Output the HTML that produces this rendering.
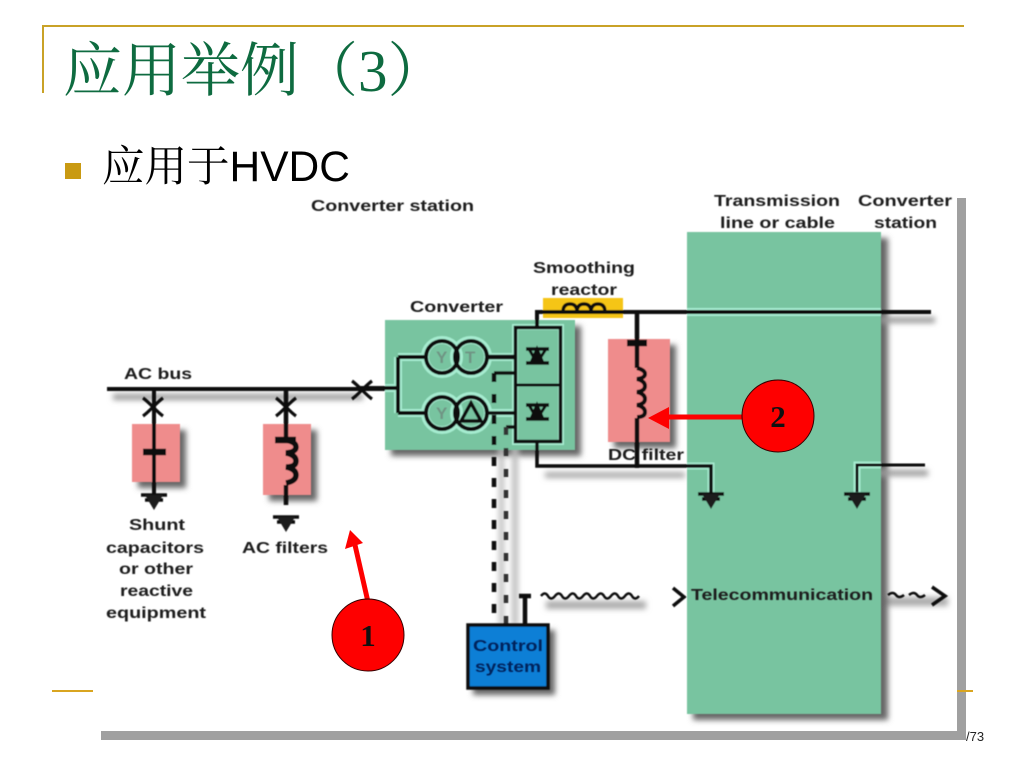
<!DOCTYPE html>
<html><head><meta charset="utf-8"><style>
html,body{margin:0;padding:0;background:#fff;width:1024px;height:768px;overflow:hidden}
svg{display:block}
.l{font-family:"Liberation Sans",sans-serif;font-size:16px;fill:#1c1c1c;font-weight:bold;stroke:none}
</style></head><body>
<svg width="1024" height="768" viewBox="0 0 1024 768" xmlns="http://www.w3.org/2000/svg">
<defs>
<filter id="b" x="-20%" y="-20%" width="140%" height="140%"><feGaussianBlur stdDeviation="3"/></filter>
<filter id="s" x="-5%" y="-5%" width="110%" height="110%"><feGaussianBlur stdDeviation=".55"/></filter>
<filter id="w" filterUnits="userSpaceOnUse" x="90" y="190" width="880" height="550"><feGaussianBlur stdDeviation=".5"/></filter>
<g id="gnd"><path d="M-13 1H13M-9 6H9" stroke="#111" stroke-width="3.500" fill="none"/><path d="M-9 1H9L0 16Z" fill="#1a1a1a"/></g>
<g id="x"><path d="M-10 -9C-4 -5 4 5 10 9M-10 9C-4 5 4 -5 10 -9" stroke="#111" stroke-width="3.200" fill="none"/></g>
</defs>

<!-- slide frame -->
<path d="M42 26H964" stroke="#c9a227" stroke-width="2" fill="none"/>
<path d="M43 26V93" stroke="#c9a227" stroke-width="2" fill="none"/>
<text x="63" y="91" font-family="'Liberation Serif','Noto Serif CJK SC',serif" font-size="59" fill="#0e6b40">应用举例（3）</text>
<rect x="65" y="163" width="16" height="16" fill="#c99a12"/>
<text x="102" y="181" font-family="'Liberation Sans','Noto Serif CJK SC',sans-serif" font-size="42.5" fill="#000">应用于HVDC</text>
<text x="966" y="741" font-family="'Liberation Sans',sans-serif" font-size="13" fill="#222">/73</text>

<!-- picture -->
<rect x="957" y="198" width="9" height="542" fill="#a0a0a0"/>
<rect x="101" y="731" width="865" height="9" fill="#a0a0a0"/>
<path d="M52 691H93M957 691H973" stroke="#d9a520" stroke-width="2" fill="none"/>

<!-- shadows -->
<g filter="url(#b)" fill="#666">
<rect x="693" y="238" width="195" height="482"/>
<rect x="391" y="326" width="190" height="130"/>
<rect x="138" y="430" width="48" height="58"/>
<rect x="269" y="430" width="48" height="71"/>
<rect x="614" y="345" width="62" height="103"/>
<rect x="473" y="630" width="82" height="65"/>
<rect x="113" y="394" width="250" height="6" fill="#999"/>
<rect x="545" y="472" width="140" height="6" fill="#aaa"/>
<rect x="880" y="317" width="55" height="6" fill="#999"/>
<rect x="870" y="470" width="58" height="6" fill="#999"/>
<rect x="546" y="601" width="100" height="8" fill="#aaa"/>
<rect x="888" y="597" width="60" height="9" fill="#aaa"/>
<rect x="499" y="440" width="5" height="185" fill="#bbb"/>
<rect x="512" y="440" width="6" height="185" fill="#bbb"/>
</g>

<g filter="url(#w)">
<!-- green blocks -->
<rect x="687" y="232" width="194" height="482" fill="#78c4a0"/>
<rect x="385" y="320" width="190" height="130" fill="#78c4a0"/>
<!-- pink -->
<rect x="132" y="424" width="48" height="58" fill="#ef8c8c"/>
<rect x="263" y="424" width="48" height="71" fill="#ef8c8c"/>
<rect x="608" y="339" width="62" height="103" fill="#ef8c8c"/>
<!-- yellow -->
<rect x="543" y="298" width="80" height="20" fill="#f5c518"/>

<!-- mint halos -->
<g fill="none" stroke="#a6ecd0" stroke-width="8">
<path d="M687 312H881"/>
<path d="M385 388H398M398 357H425M398 413H425M398 357V413M488 357H515M488 413H515"/>
<circle cx="442" cy="357" r="17" stroke-width="8"/><circle cx="471" cy="357" r="17" stroke-width="8"/>
<circle cx="442" cy="413" r="17" stroke-width="8"/><circle cx="471" cy="413" r="17" stroke-width="8"/>
<rect x="515.500" y="327.500" width="45" height="114" stroke-width="7"/>
<path d="M687 466H711V492M881 465H857V492" stroke-width="7"/>
</g>
<path d="M518 330H558V440H518Z" fill="#78c4a0"/>

<!-- wiring -->
<g fill="none" stroke="#0c0c0c" stroke-width="3.500">
<path d="M107 389H385" stroke-width="4"/>
<path d="M360 388H398M398 357V413M398 357H425M398 413H425" stroke-width="4"/>
<path d="M488 357H515" stroke-width="4.500"/><path d="M488 413H515" stroke-width="3.500"/>
<circle cx="442" cy="357" r="16" stroke-width="4"/><circle cx="471" cy="357" r="16" stroke-width="4"/>
<circle cx="442" cy="413" r="16" stroke-width="4"/><circle cx="471" cy="413" r="16" stroke-width="4"/>
<rect x="515.500" y="327.500" width="45" height="114" stroke-width="3.500"/>
<path d="M516 385H560" stroke-width="3"/>
<path d="M537 327V312H931" stroke-width="4"/>
<path d="M537 442V466H711V495" stroke-width="3.500"/>
<path d="M637 312V368M637 418V468" stroke-width="4.500"/>
<path d="M637 368q8 2 8 6t-8 5q8 2 8 7t-8 6q8 2 8 7t-8 6q8 2 8 7t-8 5" stroke-width="4"/>
<path d="M563 312q0 -8 7 -8t7 8q0 -8 7 -8t7 8q0 -8 7 -8t7 8" stroke-width="3.500"/>
<path d="M154 389V495" stroke-width="4"/>
<path d="M286 389V440M286 485V505" stroke-width="4.500"/>
<path d="M286 440q10 2 10 7t-10 6q10 2 10 8t-10 6q10 2 10 8t-10 8" stroke-width="5.500"/>
<path d="M925 465H857V492" stroke-width="3"/>
<path d="M525 624V597M519 596H531" stroke-width="4.500"/>
<path d="M494 373H515M506 427H515" stroke-width="3.500"/>
<path d="M494 373V624" stroke-width="4.500" stroke-dasharray="9 12"/>
<path d="M506 427V624" stroke-width="4.500" stroke-dasharray="8 13" stroke="#333"/>
<path d="M541 596q4 -5 7 0t7 0q4 -5 7 0t7 0q4 -5 7 0t7 0q4 -5 7 0t7 0q4 -5 7 0t7 0q4 -5 7 0t7 0q4 -5 7 0t7 0" stroke-width="2.500"/>
<path d="M888 595q5 -4 8 0t8 0M909 595q5 -4 8 0t8 0" stroke-width="2.500"/>
<path d="M673 588L684 597L673 606" stroke-width="3.500"/>
<path d="M932 587L945 596L932 605" stroke-width="3.500"/>
</g>
<path d="M143 452H166M275 440H296M627 343H647" stroke="#0c0c0c" stroke-width="6.500" fill="none"/>

<!-- thyristors -->
<g fill="none" stroke="#0c0c0c">
<path d="M526 349H549M526 363H549" stroke-width="3.500"/><path d="M531 363L537 349L543 363Z" fill="#0c0c0c" stroke-width="3"/><path d="M529 349L537 363M546 349L537 363" stroke-width="3"/>
<path d="M526 405H549M526 419H549" stroke-width="3.500"/><path d="M531 419L537 405L543 419Z" fill="#0c0c0c" stroke-width="3"/><path d="M529 405L537 419M546 405L537 419" stroke-width="3"/>
</g>
<g fill="#6f9484" font-family="'Liberation Sans',sans-serif" font-size="17" font-weight="bold">
<text x="436" y="363">Y</text><text x="465" y="363">T</text><text x="436" y="419">Y</text>
</g>
<path d="M471 403L481 421H461Z" fill="none" stroke="#0c0c0c" stroke-width="3.500"/>

<use href="#x" x="153" y="407"/>
<use href="#x" x="286" y="407"/>
<use href="#x" x="362" y="390"/>
<use href="#gnd" x="154" y="494"/>
<use href="#gnd" x="286" y="516"/>
<use href="#gnd" x="711" y="493"/>
<use href="#gnd" x="857" y="493"/>

<!-- control system -->
<rect x="468" y="625" width="80" height="63" fill="#0b7fd6" stroke="#111" stroke-width="3.500"/>
</g>

<!-- labels -->
<g filter="url(#s)">
<text class="l" x="311" y="211" textLength="163" lengthAdjust="spacingAndGlyphs">Converter station</text>
<text class="l" x="714" y="206" textLength="126" lengthAdjust="spacingAndGlyphs">Transmission</text>
<text class="l" x="720" y="228" textLength="115" lengthAdjust="spacingAndGlyphs">line or cable</text>
<text class="l" x="858" y="206" textLength="94" lengthAdjust="spacingAndGlyphs">Converter</text>
<text class="l" x="874" y="228" textLength="63" lengthAdjust="spacingAndGlyphs">station</text>
<text class="l" x="533" y="273" textLength="102" lengthAdjust="spacingAndGlyphs">Smoothing</text>
<text class="l" x="551" y="295" textLength="66" lengthAdjust="spacingAndGlyphs">reactor</text>
<text class="l" x="410" y="312" textLength="93" lengthAdjust="spacingAndGlyphs">Converter</text>
<text class="l" x="124" y="379" textLength="68" lengthAdjust="spacingAndGlyphs">AC bus</text>
<text class="l" x="608" y="460" textLength="76" lengthAdjust="spacingAndGlyphs">DC filter</text>
<text class="l" x="129" y="530" textLength="56" lengthAdjust="spacingAndGlyphs">Shunt</text>
<text class="l" x="106" y="553" textLength="98" lengthAdjust="spacingAndGlyphs">capacitors</text>
<text class="l" x="119" y="574" textLength="74" lengthAdjust="spacingAndGlyphs">or other</text>
<text class="l" x="120" y="596" textLength="73" lengthAdjust="spacingAndGlyphs">reactive</text>
<text class="l" x="106" y="618" textLength="100" lengthAdjust="spacingAndGlyphs">equipment</text>
<text class="l" x="242" y="553" textLength="86" lengthAdjust="spacingAndGlyphs">AC filters</text>
<text class="l" x="691" y="600" textLength="182" lengthAdjust="spacingAndGlyphs">Telecommunication</text>
<text class="l" x="473" y="651" textLength="70" lengthAdjust="spacingAndGlyphs" style="fill:#04235c">Control</text>
<text class="l" x="475" y="672" textLength="66" lengthAdjust="spacingAndGlyphs" style="fill:#04235c">system</text>
</g>

<!-- red callouts -->
<path d="M368 602L355 545" stroke="#fe0000" stroke-width="5" fill="none"/>
<path d="M350 530L345 549L363 543Z" fill="#fe0000"/>
<circle cx="368" cy="635" r="36" fill="#fe0000" stroke="#300" stroke-width="1"/>
<text x="368" y="646" text-anchor="middle" font-family="'Liberation Serif',serif" font-weight="bold" font-size="31" fill="#111">1</text>
<path d="M742 417H664" stroke="#fe0000" stroke-width="5" fill="none"/>
<path d="M648 418L669 407V429Z" fill="#fe0000"/>
<circle cx="778" cy="416" r="36" fill="#fe0000" stroke="#300" stroke-width="1"/>
<text x="778" y="427" text-anchor="middle" font-family="'Liberation Serif',serif" font-weight="bold" font-size="31" fill="#111">2</text>
</svg>
</body></html>
